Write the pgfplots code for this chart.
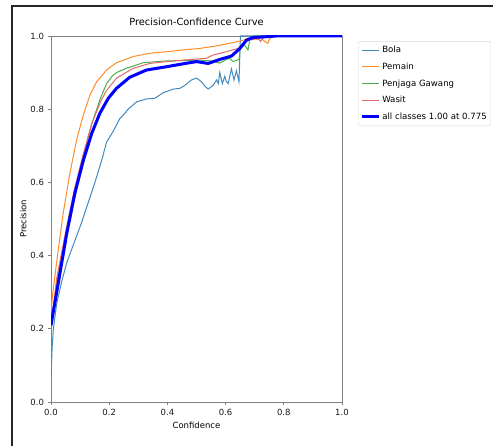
\documentclass[border=0pt]{standalone}
\usepackage{pgfplots}
\pgfplotsset{compat=1.18}
\usepackage{fontspec}
\setmainfont{DejaVu Sans}
\definecolor{tabblue}{HTML}{1F77B4}
\definecolor{taborange}{HTML}{FF7F0E}
\definecolor{tabgreen}{HTML}{2CA02C}
\definecolor{tabred}{HTML}{D62728}
\definecolor{axgray}{HTML}{808080}
\begin{document}
\begin{tikzpicture}
\useasboundingbox (0pt,0pt) rectangle (493pt,446pt);
\begin{axis}[
  at={(51pt,44pt)}, anchor=south west,
  width=291pt, height=366pt, scale only axis,
  xmin=0, xmax=1, ymin=0, ymax=1,
  xtick={0,0.2,0.4,0.6,0.8,1.0},
  ytick={0,0.2,0.4,0.6,0.8,1.0},
  tick align=outside, tick pos=left,
  major tick length=3.5pt,
  axis line style={axgray, line width=0.9pt},
  tick style={axgray, line width=0.8pt},
  /pgf/number format/assume math mode=true,
  /pgf/number format/.cd, fixed, fixed zerofill, precision=1, /pgfplots/.cd,
  ticklabel style={font=\fontsize{8.5}{10}\selectfont, text=black!90},
  title={Precision-Confidence Curve},
  title style={font=\fontsize{9.8}{12}\selectfont, text=black, at={(0.5,1)}, anchor=south, yshift=1pt},
  xlabel={Confidence}, ylabel={Precision},
  label style={font=\fontsize{8.5}{10}\selectfont, text=black},
  ylabel style={yshift=-3pt},
  legend style={at={(1.055,0.986)}, anchor=north west, font=\fontsize{8.6}{10}\selectfont,
    draw=black!15, rounded corners=1.5pt, inner xsep=2pt, inner ysep=3pt, row sep=4.6pt,
    cells={anchor=west}},
  legend cell align=left,
]
\addplot[tabblue!85, line width=1pt] coordinates {
(0,0.07)(0.004,0.15)(0.008,0.2)(0.02,0.27)(0.037,0.33)(0.054,0.38)(0.077,0.43)(0.105,0.49)(0.128,0.545)(0.151,0.6)(0.174,0.66)(0.191,0.71)(0.214,0.74)(0.237,0.775)(0.25,0.785)(0.265,0.80)(0.294,0.82)(0.328,0.828)(0.357,0.83)(0.386,0.845)(0.42,0.855)(0.443,0.857)(0.46,0.865)(0.483,0.88)(0.5,0.885)(0.517,0.875)(0.53,0.862)(0.54,0.855)(0.557,0.865)(0.569,0.88)(0.575,0.87)(0.58,0.9)(0.589,0.87)(0.597,0.89)(0.603,0.875)(0.609,0.87)(0.62,0.91)(0.629,0.88)(0.637,0.905)(0.646,0.875)(0.651,1.0)(1,1)};
\addlegendentry{Bola}
\addplot[taborange!90, line width=1pt] coordinates {
(0,0.25)(0.008,0.31)(0.025,0.416)(0.042,0.516)(0.065,0.625)(0.088,0.716)(0.111,0.784)(0.134,0.839)(0.157,0.875)(0.191,0.907)(0.225,0.927)(0.283,0.944)(0.34,0.953)(0.397,0.957)(0.454,0.962)(0.511,0.966)(0.569,0.973)(0.626,0.982)(0.672,0.991)(0.69,0.995)(0.71,0.99)(0.72,0.995)(0.735,0.985)(0.745,0.98)(0.75,0.99)(0.76,1.0)(1,1)};
\addlegendentry{Pemain}
\addplot[tabgreen!85, line width=1pt] coordinates {
(0,0.19)(0.02,0.33)(0.054,0.47)(0.08,0.57)(0.11,0.67)(0.14,0.76)(0.17,0.83)(0.191,0.87)(0.21,0.89)(0.225,0.9)(0.26,0.912)(0.317,0.927)(0.397,0.932)(0.466,0.933)(0.511,0.934)(0.55,0.932)(0.58,0.926)(0.6,0.935)(0.614,0.939)(0.626,0.93)(0.646,0.936)(0.651,0.97)(0.665,0.975)(0.677,0.962)(0.683,0.99)(0.7,1.0)(1,1)};
\addlegendentry{Penjaga Gawang}
\addplot[tabred!70, line width=1pt] coordinates {
(0,0.21)(0.02,0.34)(0.054,0.48)(0.08,0.58)(0.11,0.675)(0.14,0.76)(0.17,0.82)(0.19,0.85)(0.225,0.885)(0.283,0.912)(0.34,0.925)(0.397,0.93)(0.466,0.935)(0.534,0.939)(0.557,0.948)(0.603,0.957)(0.643,0.966)(0.672,0.989)(0.695,0.99)(0.71,0.995)(0.72,0.985)(0.73,0.995)(0.75,1.0)(1,1)};
\addlegendentry{Wasit}
\addplot[blue, line width=3pt] coordinates {
(0,0.21)(0.025,0.325)(0.054,0.46)(0.082,0.57)(0.111,0.66)(0.14,0.734)(0.168,0.789)(0.197,0.83)(0.225,0.857)(0.27,0.887)(0.328,0.907)(0.397,0.916)(0.454,0.924)(0.5,0.93)(0.54,0.925)(0.58,0.936)(0.62,0.945)(0.649,0.966)(0.672,0.989)(0.695,0.996)(0.74,0.998)(0.775,1.0)(1,1)};
\addlegendentry{all classes 1.00 at 0.775}
\end{axis}
\draw[line width=2pt,black!85] (12pt,-2pt) -- (12pt,440pt) -- (495pt,440pt);
\end{tikzpicture}
\end{document}
